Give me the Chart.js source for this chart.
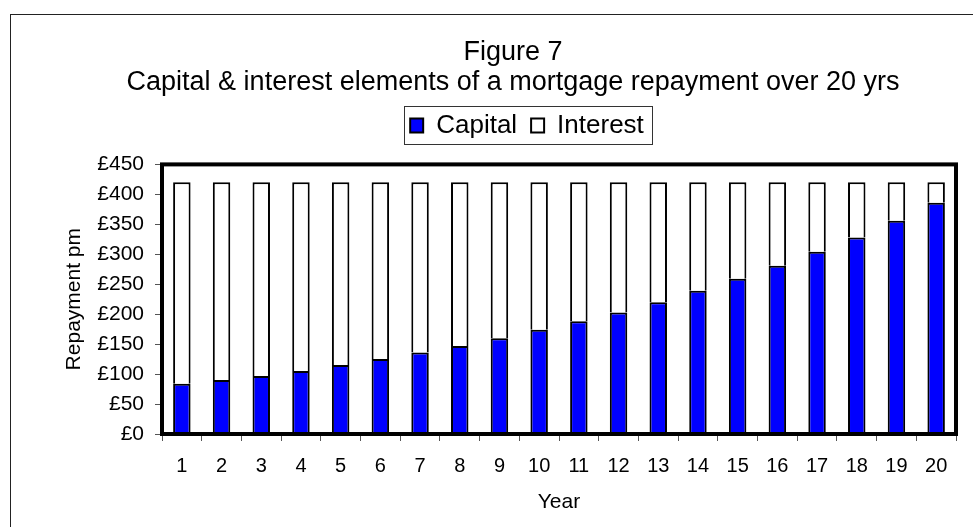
<!DOCTYPE html>
<html>
<head>
<meta charset="utf-8">
<script src="https://cdn.jsdelivr.net/npm/chart.js@4/dist/chart.umd.min.js"></script>
<style>
  html, body { margin: 0; padding: 0; background: #fff; overflow: hidden; }
  #wrap { position: relative; width: 973px; height: 527px; overflow: hidden; }
  #outline { position: absolute; left: 10px; top: 14px; width: 1100px; height: 600px; border: 1px solid #222; }
  #chart { position: absolute; left: 0; top: 0; }
</style>
</head>
<body>
<div id="wrap">
  <div id="outline"></div>
  <!-- the chart frame runs past the right edge of the window, so the canvas is wider -->
  <canvas id="chart" width="1030" height="527"></canvas>
</div>
<script>
// Values (pounds per month)
const years = ['1','2','3','4','5','6','7','8','9','10','11','12','13','14','15','16','17','18','19','20'];
const capital = [84, 90, 97, 105, 115, 125, 136, 147, 160, 174, 188, 203, 220, 239, 259, 281, 304, 328, 356, 386];
const interest = [336, 330, 323, 315, 305, 295, 284, 273, 260, 246, 232, 217, 200, 181, 161, 139, 116, 92, 64, 34];
const titleLines = ['Figure 7', 'Capital & interest elements of a mortgage repayment over 20 yrs'];

const FONT = "'Liberation Sans', Arial, sans-serif";

// thick plot frame + thin box round the legend
const framePlugin = {
  id: 'frame',
  beforeInit(chart) {
    // leave a gap between legend and plot
    const legend = chart.legend;
    const fit = legend.fit;
    legend.fit = function () {
      fit.call(this);
      this.height += 16;
    };
  },
  afterLayout(chart) {
    // legend sits a little right of the title centre
    chart.legend.left += 14;
    chart.legend.right += 14;
  },
  afterDraw(chart) {
    const { ctx, chartArea: a, legend } = chart;
    ctx.save();
    ctx.strokeStyle = '#000';
    ctx.lineWidth = 4;
    ctx.strokeRect(a.left, a.top, a.right - a.left, a.bottom - a.top);

    const boxes = legend.legendHitBoxes;
    if (boxes && boxes.length) {
      const l = Math.min(...boxes.map(b => b.left)) - 6;
      const r = Math.max(...boxes.map(b => b.left + b.width)) + 8;
      const t = boxes[0].top - 6;
      const btm = boxes[0].top + boxes[0].height + 6;
      ctx.lineWidth = 1;
      ctx.strokeStyle = '#333';
      ctx.strokeRect(Math.round(l) + 0.5, Math.round(t) + 0.5, Math.round(r - l), Math.round(btm - t));
    }
    ctx.restore();
  }
};

new Chart(document.getElementById('chart'), {
  type: 'bar',
  data: {
    labels: years,
    datasets: [
      {
        label: 'Capital',
        data: capital,
        backgroundColor: '#0000ff',
        borderColor: '#000',
        borderWidth: 2,
        borderSkipped: 'bottom'
      },
      {
        label: 'Interest',
        data: interest,
        backgroundColor: '#fff',
        borderColor: '#000',
        borderWidth: 2,
        borderSkipped: 'bottom'
      }
    ]
  },
  options: {
    responsive: false,
    animation: false,
    devicePixelRatio: 1,
    layout: { padding: { top: 14, left: 10, right: 14, bottom: 0 } },
    datasets: { bar: { barPercentage: 0.44, categoryPercentage: 1 } },
    plugins: {
      title: {
        display: true,
        text: titleLines,
        color: '#000',
        font: { family: FONT, size: 27, weight: 'normal', lineHeight: 1.1 },
        padding: { top: 24, bottom: 1 }
      },
      legend: {
        display: true,
        position: 'top',
        labels: {
          color: '#000',
          font: { family: FONT, size: 26 },
          boxWidth: 13,
          boxHeight: 14,
          padding: 14
        }
      },
      tooltip: { enabled: false }
    },
    scales: {
      x: {
        stacked: true,
        grid: { drawOnChartArea: false, drawTicks: true, tickLength: 7, color: '#555', offset: true },
        border: { display: false },
        ticks: { color: '#000', font: { family: FONT, size: 20 }, padding: 13, maxRotation: 0, autoSkip: false },
        title: { display: true, text: 'Year', color: '#000', font: { family: FONT, size: 21 }, padding: { top: 0, bottom: 12 } },
        afterFit(scale) { scale.height = 93; }
      },
      y: {
        stacked: true,
        min: 0,
        max: 450,
        grid: { drawOnChartArea: false, drawTicks: true, tickLength: 7, color: '#555' },
        border: { display: false },
        ticks: {
          stepSize: 50,
          color: '#000',
          font: { family: FONT, size: 21 },
          padding: 11,
          callback: v => '£' + v
        },
        title: { display: true, text: 'Repayment pm', color: '#000', font: { family: FONT, size: 21 }, padding: { top: 52, bottom: 0 } },
        afterFit(scale) { scale.width = 152; }
      },
      // empty space on the right, outside the plot (chart frame continues past the window)
      spare: {
        type: 'linear',
        position: 'right',
        display: true,
        grid: { display: false },
        border: { display: false },
        ticks: { display: false },
        afterFit(scale) { scale.width = 60; }
      }
    }
  },
  plugins: [framePlugin]
});
</script>
</body>
</html>
